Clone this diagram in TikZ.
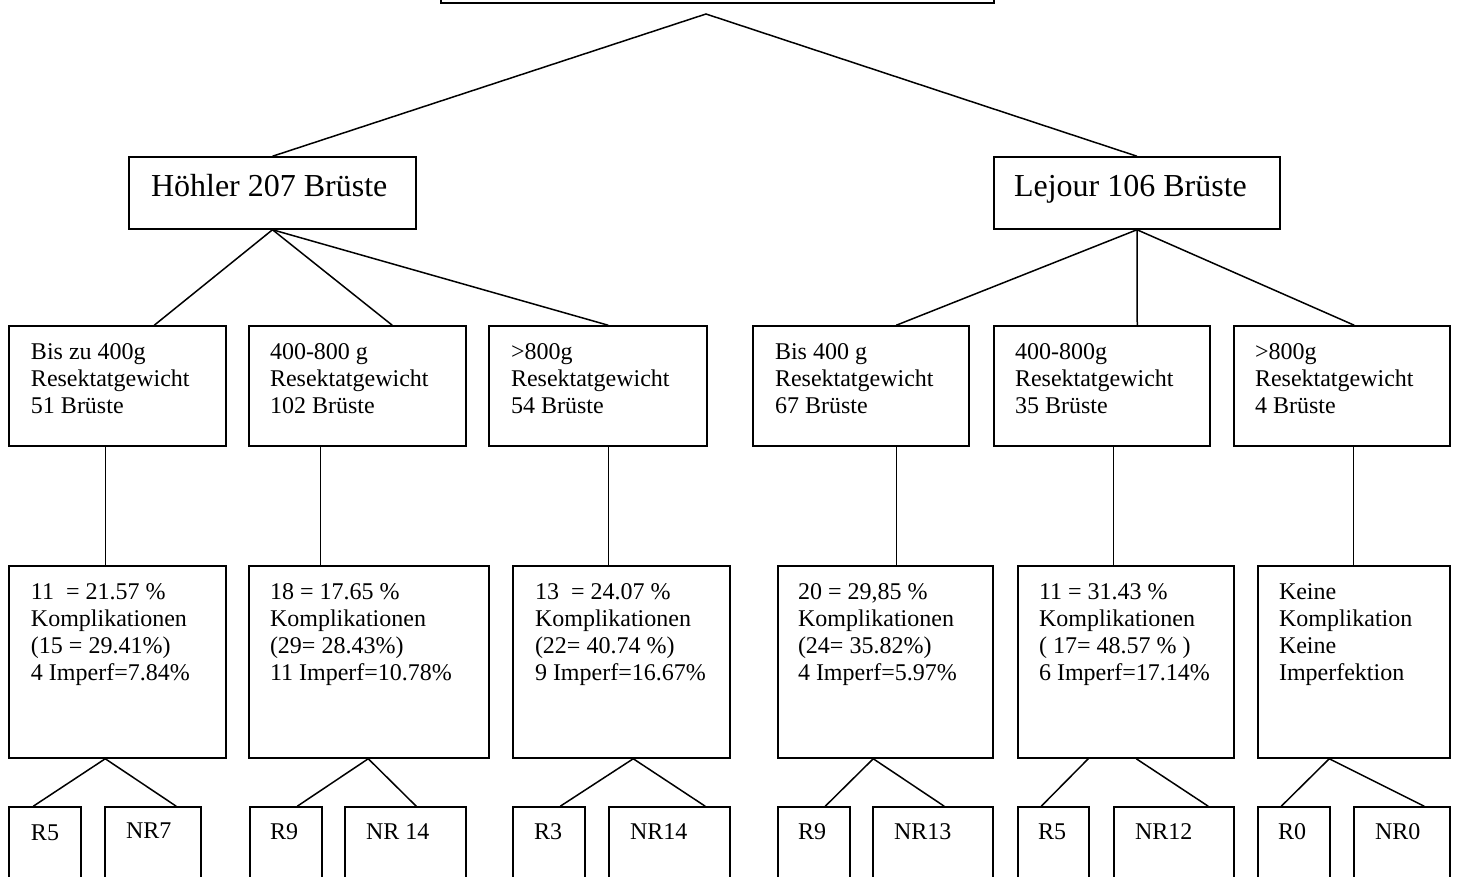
\documentclass[tikz,border=0pt]{standalone}
\usepackage{fontspec}
\setmainfont{Liberation Serif}
\usetikzlibrary{calc}
\begin{document}
\begin{tikzpicture}[x={(0.5pt,0pt)},y={(0pt,-0.5pt)},line width=0.75pt,
 box/.style={draw,rectangle,inner sep=0pt,line width=0.75pt},
 txt/.style={inner sep=0pt,anchor=north west,align=left,font=\fontsize{12pt}{13.5pt}\selectfont},
 one/.style={inner sep=0pt,anchor=base west,font=\fontsize{12pt}{13.5pt}\selectfont},
 big/.style={inner sep=0pt,anchor=base west,font=\fontsize{16pt}{18pt}\selectfont},
 conn/.style={draw,line width=0.75pt}]
\clip (0,0) rectangle (1458,877);
% top
\node[box,minimum width=276.5pt,minimum height=23pt] (top) at (717.5,-20) {};
\coordinate (apex) at (706,14);
% level 1
\node[box,minimum width=143.5pt,minimum height=36pt] (H) at (272.5,193) {};
\node[box,minimum width=143pt,minimum height=36pt] (L) at (1137,193) {};
\node[big] (Ht) at ($(H.north west)+(22,40)$) {Höhler 207 Brüste};
\node[big] (Lt) at ($(L.north west)+(20,40)$) {Lejour 106 Brüste};
% level 2
\node[box,minimum width=108.5pt,minimum height=60pt] (a1) at (117.5,386) {};
\node[box,minimum width=108.5pt,minimum height=60pt] (a2) at (357.5,386) {};
\node[box,minimum width=109pt,minimum height=60pt] (a3) at (598,386) {};
\node[box,minimum width=108pt,minimum height=60pt] (a4) at (861,386) {};
\node[box,minimum width=108pt,minimum height=60pt] (a5) at (1102,386) {};
\node[box,minimum width=108pt,minimum height=60pt] (a6) at (1342,386) {};
\node[txt] (a1t) at ($(a1.north west)+(22,15)$) {\strut Bis zu 400g\\Resektatgewicht\\51 Brüste};
\node[txt] (a2t) at ($(a2.north west)+(21,15)$) {\strut 400-800 g\\Resektatgewicht\\102 Brüste};
\node[txt] (a3t) at ($(a3.north west)+(22,15)$) {\strut >800g\\Resektatgewicht\\54 Brüste};
\node[txt] (a4t) at ($(a4.north west)+(22,15)$) {\strut Bis 400 g\\Resektatgewicht\\67 Brüste};
\node[txt] (a5t) at ($(a5.north west)+(21,15)$) {\strut 400-800g\\Resektatgewicht\\35 Brüste};
\node[txt] (a6t) at ($(a6.north west)+(21,15)$) {\strut >800g\\Resektatgewicht\\4 Brüste};
% level 3
\node[box,minimum width=108.5pt,minimum height=96pt] (b1) at (117.5,662) {};
\node[box,minimum width=120pt,minimum height=96pt] (b2) at (369,662) {};
\node[box,minimum width=108.5pt,minimum height=96pt] (b3) at (621.5,662) {};
\node[box,minimum width=107.5pt,minimum height=96pt] (b4) at (885.5,662) {};
\node[box,minimum width=108pt,minimum height=96pt] (b5) at (1126,662) {};
\node[box,minimum width=96pt,minimum height=96pt] (b6) at (1354,662) {};
\node[txt] (b1t) at ($(b1.north west)+(22,15)$) {\strut 11\ \ = 21.57 \%\\Komplikationen\\(15 = 29.41\%)\\4 Imperf=7.84\%};
\node[txt] (b2t) at ($(b2.north west)+(21,15)$) {\strut 18 = 17.65 \%\\Komplikationen\\(29= 28.43\%)\\11 Imperf=10.78\%};
\node[txt] (b3t) at ($(b3.north west)+(22,15)$) {\strut 13\ \ = 24.07 \%\\Komplikationen\\(22= 40.74 \%)\\9 Imperf=16.67\%};
\node[txt] (b4t) at ($(b4.north west)+(20,15)$) {\strut 20 = 29,85 \%\\Komplikationen\\(24= 35.82\%)\\4 Imperf=5.97\%};
\node[txt] (b5t) at ($(b5.north west)+(21,15)$) {\strut 11 = 31.43 \%\\Komplikationen\\( 17= 48.57 \% )\\6 Imperf=17.14\%};
\node[txt] (b6t) at ($(b6.north west)+(21,15)$) {\strut Keine\\Komplikation\\Keine\\Imperfektion};
% level 4
\node[box,minimum width=36pt,minimum height=60pt] (c1a) at (45,867) {};
\node[box,minimum width=48pt,minimum height=60pt] (c1b) at (153,867) {};
\node[box,minimum width=36pt,minimum height=60pt] (c2a) at (286,867) {};
\node[box,minimum width=60.5pt,minimum height=60pt] (c2b) at (405.5,867) {};
\node[box,minimum width=36pt,minimum height=60pt] (c3a) at (549,867) {};
\node[box,minimum width=60.5pt,minimum height=60pt] (c3b) at (669.5,867) {};
\node[box,minimum width=36pt,minimum height=60pt] (c4a) at (814,867) {};
\node[box,minimum width=60pt,minimum height=60pt] (c4b) at (933,867) {};
\node[box,minimum width=35.5pt,minimum height=60pt] (c5a) at (1053.5,867) {};
\node[box,minimum width=60pt,minimum height=60pt] (c5b) at (1174,867) {};
\node[box,minimum width=36pt,minimum height=60pt] (c6a) at (1294,867) {};
\node[box,minimum width=48pt,minimum height=60pt] (c6b) at (1402,867) {};
\node[one] (c1at) at ($(c1a.north west)+(22,34)$) {R5};
\node[one] (c1bt) at ($(c1b.north west)+(21,32)$) {NR7};
\node[one] (c2at) at ($(c2a.north west)+(20,33)$) {R9};
\node[one] (c2bt) at ($(c2b.north west)+(21,33)$) {NR 14};
\node[one] (c3at) at ($(c3a.north west)+(21,33)$) {R3};
\node[one] (c3bt) at ($(c3b.north west)+(21,33)$) {NR14};
\node[one] (c4at) at ($(c4a.north west)+(20,33)$) {R9};
\node[one] (c4bt) at ($(c4b.north west)+(21,33)$) {NR13};
\node[one] (c5at) at ($(c5a.north west)+(20,33)$) {R5};
\node[one] (c5bt) at ($(c5b.north west)+(21,33)$) {NR12};
\node[one] (c6at) at ($(c6a.north west)+(20,33)$) {R0};
\node[one] (c6bt) at ($(c6b.north west)+(21,33)$) {NR0};
% connectors
\draw[conn] (H.north) -- (apex) -- (L.north);
\draw[conn] (H.south) -- ($(a1.north west)+(146,0)$);
\draw[conn] (H.south) -- ($(a2.north west)+(144,0)$);
\draw[conn] (H.south) -- ($(a3.north west)+(120,0)$);
\draw[conn] (L.south) -- ($(a4.north west)+(144,0)$);
\draw[conn] (L.south) -- ($(a5.north west)+(144,0)$);
\draw[conn] (L.south) -- ($(a6.north west)+(121,0)$);
\draw[conn] ($(a1.south west)+(97,0)$) -- ($(b1.north west)+(97,0)$);
\draw[conn] ($(a2.south west)+(72,0)$) -- ($(b2.north west)+(72,0)$);
\draw[conn] ($(a3.south west)+(120,0)$) -- ($(b3.north west)+(96,0)$);
\draw[conn] ($(a4.south west)+(144,0)$) -- ($(b4.north west)+(119,0)$);
\draw[conn] ($(a5.south west)+(120,0)$) -- ($(b5.north west)+(96,0)$);
\draw[conn] ($(a6.south west)+(120,0)$) -- ($(b6.north west)+(96,0)$);
\draw[conn] ($(c1a.north west)+(25,0)$) -- ($(b1.south west)+(97,0)$) -- ($(c1b.north west)+(72,0)$);
\draw[conn] ($(c2a.north west)+(48,0)$) -- ($(b2.south west)+(120,0)$) -- ($(c2b.north west)+(72,0)$);
\draw[conn] ($(c3a.north west)+(48,0)$) -- ($(b3.south west)+(121,0)$) -- ($(c3b.north west)+(97,0)$);
\draw[conn] ($(c4a.north west)+(48,0)$) -- ($(b4.south west)+(96,0)$) -- ($(c4b.north west)+(72,0)$);
\draw[conn] ($(c5a.north west)+(24,0)$) -- ($(b5.south west)+(71,0)$);
\draw[conn] ($(b5.south west)+(119,0)$) -- ($(c5b.north west)+(95,0)$);
\draw[conn] ($(c6a.north west)+(24,0)$) -- ($(b6.south west)+(72,0)$) -- ($(c6b.north west)+(71,0)$);
\end{tikzpicture}
\end{document}
